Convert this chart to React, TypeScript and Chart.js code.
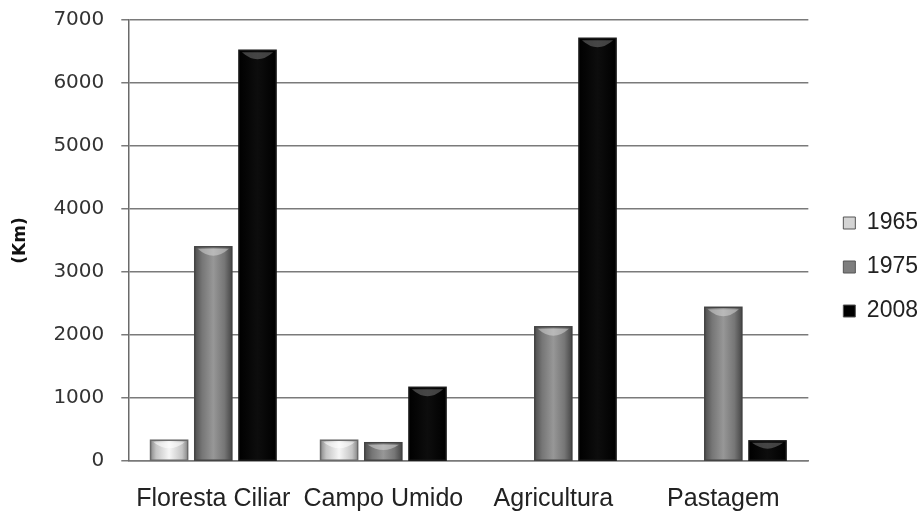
import React, { useEffect, useRef } from "react";
import { Chart, registerables } from "chart.js";

Chart.register(...registerables);

const categories = ["Floresta Ciliar", "Campo Umido", "Agricultura", "Pastagem"];
const seriesLabels = ["1965", "1975", "2008"];
const values1965 = [330, 330, 0, 0];
const values1975 = [3400, 290, 2130, 2440];
const values2008 = [6520, 1170, 6710, 320];
const yMax = 7000;
const yStep = 1000;

const solidColors = ["#d4d4d4", "#7e7e7e", "#000000"];
const gradientStops: [number, string][][] = [
  [[0, "#8a8a8a"], [0.15, "#c4c4c4"], [0.5, "#f6f6f6"], [0.85, "#c4c4c4"], [1, "#8a8a8a"]],
  [[0, "#4e4e4e"], [0.2, "#767676"], [0.5, "#979797"], [0.8, "#767676"], [1, "#474747"]],
  [[0, "#000000"], [0.5, "#0d0d0d"], [1, "#000000"]],
];
const borderColors = ["#6a6a6a", "#444444", "#1a1a1a"];
const highlights = ["rgba(255,255,255,0.55)", "rgba(220,220,220,0.5)", "rgba(140,140,140,0.45)"];

const LEGEND_SHIFT = 14;

const barStylePlugin = {
  id: "barStyle",
  afterLayout(chart: any) {
    const lg = chart.legend;
    if (lg) {
      lg.left += LEGEND_SHIFT;
      lg.right += LEGEND_SHIFT;
    }
  },
  afterDatasetDraw(chart: any, args: any) {
    const ctx = chart.ctx;
    const di = args.index;
    const meta = args.meta;
    ctx.save();
    meta.data.forEach((el: any) => {
      const { x, y, base, width } = el.getProps(["x", "y", "base", "width"], true);
      const h = base - y;
      if (h < 1) return;
      const left = x - width / 2;
      const g = ctx.createLinearGradient(left, 0, left + width, 0);
      gradientStops[di].forEach(([o, c]) => g.addColorStop(o, c));
      ctx.fillStyle = g;
      ctx.fillRect(left, y, width, h);
      const capH = Math.min(7, h * 0.3);
      ctx.beginPath();
      ctx.moveTo(left + 3, y + 2);
      ctx.quadraticCurveTo(x, y + 2 + capH * 2, left + width - 3, y + 2);
      ctx.closePath();
      ctx.fillStyle = highlights[di];
      ctx.fill();
      ctx.strokeStyle = borderColors[di];
      ctx.lineWidth = 1.5;
      ctx.strokeRect(left, y, width, h);
    });
    ctx.restore();
  },
};

export default function App() {
  const ref = useRef<HTMLCanvasElement | null>(null);
  useEffect(() => {
    if (!ref.current) return;
    const allValues = [values1965, values1975, values2008];
    const chart = new Chart(ref.current, {
      type: "bar",
      data: {
        labels: categories,
        datasets: seriesLabels.map((lab, i) => ({
          label: lab,
          data: allValues[i],
          backgroundColor: solidColors[i],
          borderColor: "#555555",
          borderWidth: 1,
          categoryPercentage: 0.78,
          barPercentage: 0.84,
        })),
      },
      options: {
        animation: false,
        responsive: true,
        maintainAspectRatio: false,
        layout: { padding: { top: 20, right: 8, left: 10, bottom: 0 } },
        plugins: {
          tooltip: { enabled: false },
          legend: {
            position: "right",
            labels: {
              boxWidth: 12,
              boxHeight: 12,
              padding: 21,
              color: "#222",
              font: { family: "Liberation Sans", size: 23 },
            },
          },
        },
        scales: {
          x: {
            grid: { display: false },
            border: { display: true, color: "#7a7a7a", width: 1.5 },
            ticks: {
              color: "#222",
              padding: 15,
              maxRotation: 0,
              minRotation: 0,
              autoSkip: false,
              font: { family: "Liberation Sans", size: 25 },
            },
            afterFit: (scale: any) => {
              scale.height = 53;
            },
          },
          y: {
            min: 0,
            max: yMax,
            ticks: {
              stepSize: yStep,
              color: "#333",
              padding: 17,
              font: { family: "DejaVu Sans", size: 20 },
              callback: (v: any) => String(v),
            },
            afterFit: (scale: any) => {
              scale.paddingTop = 0;
              scale.paddingBottom = 0;
            },
            grid: { color: "#7a7a7a", lineWidth: 1.5, tickLength: 7 },
            border: { display: true, color: "#6a6a6a", width: 1.5 },
            title: {
              display: true,
              text: "(Km)",
              color: "#111",
              padding: { top: 0, bottom: 6 },
              font: { family: "DejaVu Sans", size: 17, weight: "bold" },
            },
          },
        },
      },
      plugins: [barStylePlugin],
    });
    return () => chart.destroy();
  }, []);
  return (
    <div style={{ position: "fixed", left: 0, top: 0, width: 922, height: 514, background: "#fff" }}>
      <canvas ref={ref} />
    </div>
  );
}
